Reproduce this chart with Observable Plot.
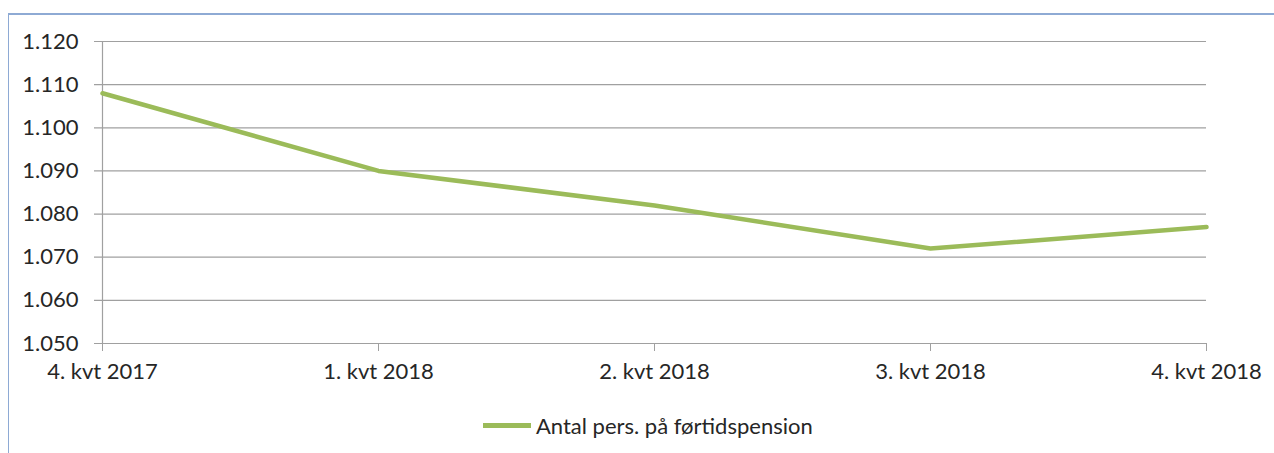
<!DOCTYPE html>
<html>
<head>
<meta charset="utf-8">
<script src="https://cdn.jsdelivr.net/npm/d3@7"></script>
<script src="https://cdn.jsdelivr.net/npm/@observablehq/plot@0.6"></script>
<style>
  html, body { margin: 0; padding: 0; background: #fff; }
  body { width: 1274px; height: 453px; position: relative; overflow: hidden; font-family: Lato, "Open Sans", sans-serif; }
  #frame { position: absolute; left: 8px; top: 13px; width: 1266px; height: 440px;
           border-top: 2px solid #8eaad4; border-left: 1.5px solid #8eaad4; box-sizing: border-box; }
  #chart { position: absolute; left: 0; top: 0; }
  #legend { position: absolute; left: 474px; top: 397px; display: flex; align-items: center;
            font-size: 22px; color: #262626; white-space: nowrap; }
  #legend .sw { width: 48px; height: 4.5px; background: #9bbb59; margin-right: 5px; }
</style>
</head>
<body>
<div id="frame">
  <div id="chart"></div>
  <div id="legend"><span class="sw"></span><span>Antal pers. på førtidspension</span></div>
</div>
<script>
const quarters = ["4. kvt 2017", "1. kvt 2018", "2. kvt 2018", "3. kvt 2018", "4. kvt 2018"];
const persons = [1108, 1090, 1082, 1072, 1077];
const yTicks = [1050, 1060, 1070, 1080, 1090, 1100, 1110, 1120];
const seriesName = "Antal pers. på førtidspension";

const rows = quarters.map((q, i) => ({quarter: q, value: persons[i]}));
const da = d3.formatLocale({decimal: ",", thousands: ".", grouping: [3], currency: ["", " kr."]});
const fmt = da.format(",");

const chart = Plot.plot({
  width: 1265,
  height: 390,
  marginLeft: 93,
  marginRight: 68,
  marginTop: 26,
  marginBottom: 62,
  style: {fontFamily: "Lato, 'Open Sans', sans-serif", fontSize: "22px", color: "#262626", background: "transparent"},
  x: {type: "point", domain: quarters, padding: 0},
  y: {domain: [1050, 1120]},
  marks: [
    Plot.ruleY(yTicks, {stroke: "#a0a0a0", strokeWidth: 1.2, insetLeft: -8}),
    Plot.ruleX([quarters[0]], {y1: 1050, y2: 1120, stroke: "#a0a0a0", strokeWidth: 1.2}),
    Plot.axisY(yTicks, {tickSize: 0, tickPadding: 24, tickFormat: fmt, label: null, fontSize: 22}),
    Plot.axisX(quarters, {tickSize: 8, tickPadding: 12, stroke: "#a0a0a0", label: null, fontSize: 22, textStroke: "none"}),
    Plot.line(rows, {x: "quarter", y: "value", stroke: "#9bbb59", strokeWidth: 4.5, strokeLinejoin: "round", title: () => seriesName})
  ]
});
document.getElementById("chart").appendChild(chart);
</script>
</body>
</html>
